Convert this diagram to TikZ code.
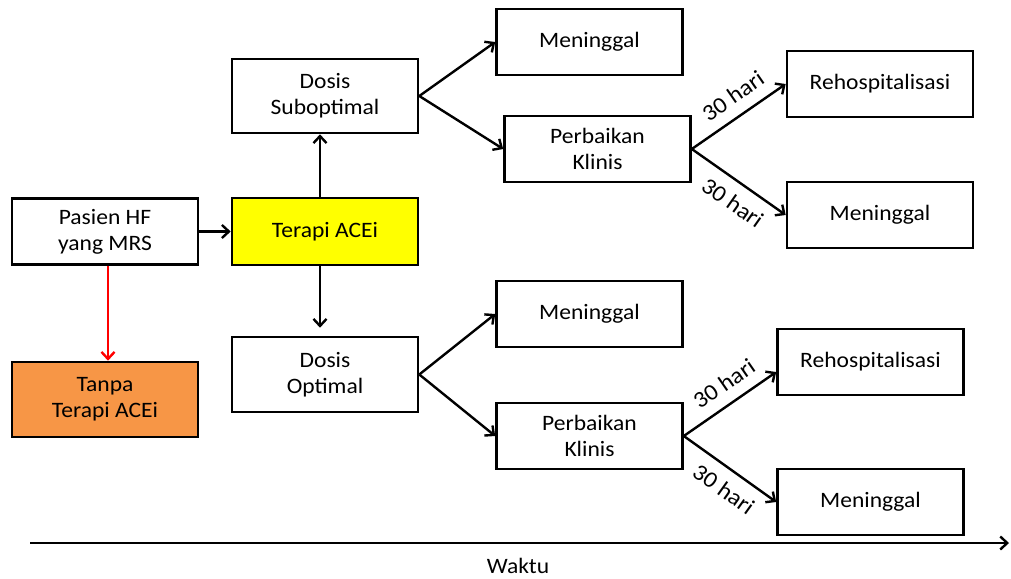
\documentclass[tikz,border=0pt]{standalone}
\usepackage{fontspec}
\setmainfont[FakeStretch=1.07]{Carlito}
\usetikzlibrary{arrows.meta}
\definecolor{boxyellow}{HTML}{FFFF00}
\definecolor{boxorange}{HTML}{F79646}
\begin{document}
\begin{tikzpicture}[x=1pt,y=-1pt,
  font=\fontsize{22}{26}\selectfont,
  box/.style={draw=black, line width=2.6pt, rectangle, minimum width=186pt,
    minimum height=66pt, align=center, inner sep=2pt},
  conn/.style={line width=2.4pt, -{Straight Barb[length=7pt,width=13pt,line width=2.4pt]}},
  lbl/.style={font=\fontsize{23}{24}\selectfont, sloped, inner sep=1pt, pos=0.56}]
\useasboundingbox (0,0) rectangle (1011,578);

% left column
\node[box] (pasien) at (105,231.5) {Pasien HF\\yang MRS};
\node[box, fill=boxorange, minimum height=75pt] (tanpa) at (105,399.5) {Tanpa\\Terapi ACEi};

% middle column
\node[box, fill=boxyellow, minimum height=67pt] (terapi) at (325,231.5) {Terapi ACEi};
\node[box, minimum height=74pt] (subopt) at (325,96) {Dosis\\Suboptimal};
\node[box, minimum height=75pt] (optimal) at (325,374.5) {Dosis\\Optimal};

% upper branch
\node[box] (men1) at (589.5,42) {Meninggal};
\node[box] (perb1) at (597.5,149) {Perbaikan\\Klinis};
\node[box] (rehos1) at (880,84) {Rehospitalisasi};
\node[box] (men2) at (880,215) {Meninggal};

% lower branch
\node[box] (men3) at (589.5,314) {Meninggal};
\node[box] (perb2) at (589.5,436) {Perbaikan\\Klinis};
\node[box] (rehos2) at (870.5,362) {Rehospitalisasi};
\node[box] (men4) at (870.5,502) {Meninggal};

% connectors
\draw[conn] (pasien) -- (terapi);
\draw[conn, red] ([xshift=3pt]pasien.south) -- ([xshift=3pt]tanpa.north);
\draw[conn] ([xshift=-5pt]terapi.north) -- ([xshift=-5pt]subopt.south);
\draw[conn, shorten >=8pt] ([xshift=-5pt]terapi.south) -- ([xshift=-5pt]optimal.north);

\draw[conn] (subopt.east) -- (men1.west);
\draw[conn] (subopt.east) -- (perb1.west);
\draw[conn] (perb1.east) -- node[lbl, above=10pt] {30 hari} (rehos1.west);
\draw[conn] (perb1.east) -- node[lbl, below=10pt] {30 hari} (men2.west);

\draw[conn] (optimal.east) -- (men3.west);
\draw[conn] (optimal.east) -- (perb2.west);
\draw[conn] (perb2.east) -- node[lbl, above=10pt] {30 hari} ([yshift=-10pt]rehos2.west);
\draw[conn] (perb2.east) -- node[lbl, below=10pt] {30 hari} (men4.west);

% time axis
\coordinate (t0) at (30,543);
\coordinate (t1) at (1009,543);
\draw[conn] (t0) -- (t1);
\node (waktu) at (518,566) {Waktu};
\end{tikzpicture}
\end{document}
